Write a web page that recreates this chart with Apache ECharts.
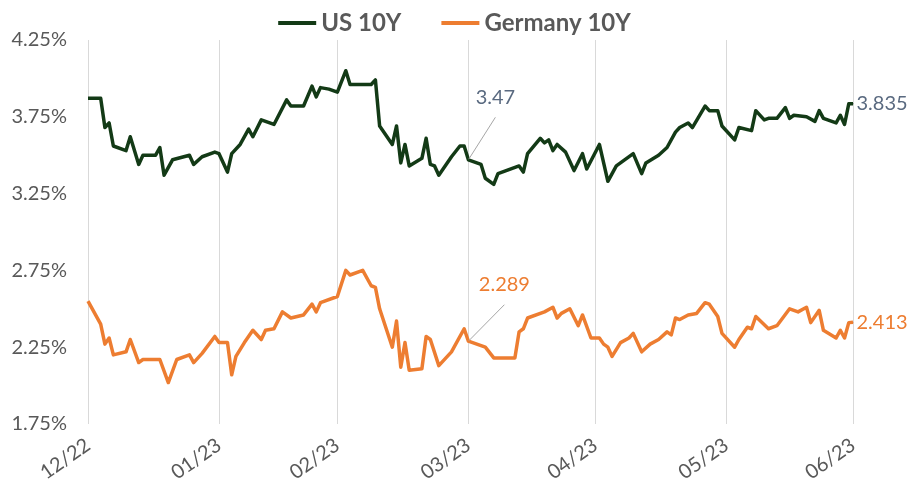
<!DOCTYPE html>
<html><head><meta charset="utf-8">
<script src="https://cdn.jsdelivr.net/npm/echarts@6/dist/echarts.min.js"></script>
<style>html,body{margin:0;padding:0;background:#fff}#c{width:909px;height:488px}</style>
</head><body><div id="c"></div>
<script>
// ---- data ----
const usDates = ['2022-12-31','2023-01-03','2023-01-04','2023-01-05','2023-01-06','2023-01-09','2023-01-10','2023-01-12','2023-01-13','2023-01-16','2023-01-17','2023-01-18','2023-01-20','2023-01-24','2023-01-25','2023-01-27','2023-01-30','2023-01-31','2023-02-02','2023-02-03','2023-02-05','2023-02-07','2023-02-08','2023-02-10','2023-02-13','2023-02-16','2023-02-17','2023-02-20','2023-02-22','2023-02-23','2023-02-24','2023-02-26','2023-02-28','2023-03-02','2023-03-03','2023-03-08','2023-03-09','2023-03-10','2023-03-13','2023-03-14','2023-03-15','2023-03-16','2023-03-17','2023-03-20','2023-03-21','2023-03-22','2023-03-23','2023-03-24','2023-03-27','2023-03-29','2023-03-30','2023-03-31','2023-04-03','2023-04-04','2023-04-06','2023-04-07','2023-04-12','2023-04-13','2023-04-14','2023-04-17','2023-04-18','2023-04-19','2023-04-20','2023-04-21','2023-04-23','2023-04-25','2023-04-27','2023-04-28','2023-05-01','2023-05-03','2023-05-05','2023-05-09','2023-05-11','2023-05-12','2023-05-15','2023-05-17','2023-05-19','2023-05-20','2023-05-22','2023-05-23','2023-05-26','2023-05-27','2023-05-29','2023-05-30','2023-06-02','2023-06-03','2023-06-06','2023-06-07','2023-06-09','2023-06-10','2023-06-12','2023-06-14','2023-06-15','2023-06-16','2023-06-19','2023-06-21','2023-06-22','2023-06-23','2023-06-26','2023-06-27','2023-06-28','2023-06-29','2023-06-30'];
const usValues = [3.87,3.87,3.68,3.71,3.56,3.53,3.62,3.44,3.50,3.50,3.55,3.37,3.47,3.50,3.44,3.49,3.52,3.51,3.39,3.51,3.57,3.67,3.62,3.73,3.70,3.86,3.82,3.82,3.95,3.88,3.94,3.93,3.91,4.05,3.96,3.96,3.99,3.69,3.57,3.69,3.45,3.57,3.43,3.48,3.61,3.44,3.43,3.37,3.49,3.56,3.56,3.47,3.44,3.35,3.31,3.38,3.43,3.39,3.51,3.61,3.58,3.60,3.53,3.57,3.52,3.40,3.51,3.41,3.57,3.33,3.43,3.51,3.38,3.45,3.50,3.55,3.65,3.68,3.71,3.68,3.82,3.79,3.79,3.69,3.60,3.68,3.66,3.79,3.73,3.74,3.74,3.81,3.74,3.76,3.75,3.72,3.79,3.74,3.71,3.76,3.70,3.835,3.835];
const deDates = ['2022-12-31','2023-01-03','2023-01-04','2023-01-05','2023-01-06','2023-01-09','2023-01-10','2023-01-12','2023-01-13','2023-01-17','2023-01-19','2023-01-21','2023-01-24','2023-01-25','2023-01-27','2023-01-30','2023-01-31','2023-02-02','2023-02-03','2023-02-04','2023-02-06','2023-02-08','2023-02-10','2023-02-11','2023-02-13','2023-02-15','2023-02-17','2023-02-20','2023-02-22','2023-02-23','2023-02-24','2023-02-28','2023-03-02','2023-03-03','2023-03-06','2023-03-08','2023-03-09','2023-03-10','2023-03-13','2023-03-14','2023-03-15','2023-03-16','2023-03-17','2023-03-20','2023-03-21','2023-03-22','2023-03-24','2023-03-27','2023-03-30','2023-03-31','2023-04-04','2023-04-06','2023-04-11','2023-04-12','2023-04-13','2023-04-14','2023-04-18','2023-04-20','2023-04-21','2023-04-22','2023-04-24','2023-04-26','2023-04-27','2023-04-29','2023-05-01','2023-05-02','2023-05-03','2023-05-04','2023-05-06','2023-05-08','2023-05-09','2023-05-11','2023-05-13','2023-05-15','2023-05-17','2023-05-18','2023-05-19','2023-05-20','2023-05-22','2023-05-24','2023-05-26','2023-05-27','2023-05-29','2023-05-30','2023-06-02','2023-06-03','2023-06-05','2023-06-06','2023-06-07','2023-06-10','2023-06-12','2023-06-15','2023-06-17','2023-06-19','2023-06-20','2023-06-22','2023-06-23','2023-06-26','2023-06-27','2023-06-28','2023-06-29','2023-06-30'];
const deValues = [2.55,2.40,2.27,2.31,2.20,2.22,2.30,2.15,2.17,2.17,2.02,2.17,2.20,2.15,2.21,2.32,2.28,2.28,2.07,2.19,2.28,2.36,2.30,2.36,2.37,2.48,2.44,2.46,2.53,2.48,2.54,2.58,2.75,2.72,2.75,2.65,2.64,2.50,2.25,2.42,2.12,2.28,2.10,2.11,2.32,2.30,2.13,2.22,2.37,2.289,2.25,2.18,2.18,2.35,2.37,2.44,2.48,2.51,2.44,2.47,2.50,2.39,2.46,2.31,2.31,2.27,2.25,2.19,2.28,2.31,2.34,2.22,2.27,2.30,2.35,2.33,2.44,2.43,2.46,2.47,2.54,2.53,2.45,2.34,2.25,2.30,2.38,2.37,2.45,2.37,2.39,2.50,2.48,2.51,2.41,2.49,2.36,2.31,2.36,2.31,2.41,2.413];
const xTickDates = ['2022-12-31','2023-01-31','2023-02-28','2023-03-31','2023-04-30','2023-05-31','2023-06-30'];
const xTickLabels = ['12/22','01/23','02/23','03/23','04/23','05/23','06/23'];
const yTickValues = [1.75, 2.25, 2.75, 3.25, 3.75, 4.25];
const seriesNames = ['US 10Y', 'Germany 10Y'];
const calloutDate = '2023-03-31';

// ---- build daily category axis ----
const days = [];
for (let t = Date.UTC(2022, 11, 31); t <= Date.UTC(2023, 5, 30); t += 86400000) {
  days.push(new Date(t).toISOString().slice(0, 10));
}
const lastDay = days[days.length - 1];
const calloutIdx = days.indexOf(calloutDate);

const US_COLOR = '#133a16';
const DE_COLOR = '#ed7d31';
const US_LABEL = '#5a6a80';
const FONT = 'Lato, "Liberation Sans", sans-serif';

function build(dates, values, labelColor) {
  const m = {};
  dates.forEach((d, i) => { m[d] = values[i]; });
  return days.map(d => {
    if (!(d in m)) return null;
    if (d === calloutDate) {
      return { value: m[d], symbol: 'circle', symbolSize: 1,
        label: { show: true, position: 'top', color: labelColor, fontSize: 20, lineHeight: 40, fontFamily: FONT },
        labelLine: { show: true, lineStyle: { color: '#a6a6a6', width: 1 } } };
    }
    if (d === lastDay) {
      return { value: m[d], symbol: 'circle', symbolSize: 1,
        label: { show: true, position: 'right', distance: 3, color: labelColor, fontSize: 20, fontFamily: FONT } };
    }
    return m[d];
  });
}

const isTick = (i, v) => xTickDates.indexOf(v) >= 0;

const chart = echarts.init(document.getElementById('c'), null, { renderer: 'canvas' });
chart.setOption({
  animation: false,
  backgroundColor: '#fff',
  textStyle: { fontFamily: FONT },
  legend: {
    top: 6, left: 'center', itemWidth: 38, itemHeight: 4, itemGap: 40, icon: 'rect',
    textStyle: { fontSize: 24, fontWeight: 'bold', color: '#595959', fontFamily: FONT },
    data: seriesNames
  },
  grid: { left: 88, right: 56, top: 40, bottom: 64, containLabel: false },
  xAxis: {
    type: 'category', data: days, boundaryGap: false,
    axisLine: { show: false }, axisTick: { show: false },
    axisLabel: { interval: isTick, formatter: v => xTickLabels[xTickDates.indexOf(v)], rotate: 35,
      color: '#595959', fontSize: 20, fontFamily: FONT, margin: 19 },
    splitLine: { show: true, interval: isTick, lineStyle: { color: '#d9d9d9', width: 1 } }
  },
  yAxis: {
    type: 'value', min: 1.75, max: 4.25, interval: 0.25,
    axisLine: { show: false }, axisTick: { show: false }, splitLine: { show: false },
    axisLabel: { color: '#595959', fontSize: 20, fontFamily: FONT, margin: 21,
      formatter: v => yTickValues.some(t => Math.abs(t - v) < 1e-9) ? v.toFixed(2) + '%' : '' }
  },
  series: [
    { name: seriesNames[0], type: 'line', data: build(usDates, usValues, US_LABEL),
      connectNulls: true, symbol: 'none', showSymbol: true, color: US_COLOR,
      lineStyle: { width: 3.5, color: US_COLOR, join: 'round' },
      labelLayout: p => p.dataIndex === calloutIdx ? { dx: 27, dy: -37 } : null },
    { name: seriesNames[1], type: 'line', data: build(deDates, deValues, DE_COLOR),
      connectNulls: true, symbol: 'none', showSymbol: true, color: DE_COLOR,
      lineStyle: { width: 3.5, color: DE_COLOR, join: 'round' },
      labelLayout: p => p.dataIndex === calloutIdx ? { dx: 36, dy: -31 } : null }
  ]
});
</script></body></html>
